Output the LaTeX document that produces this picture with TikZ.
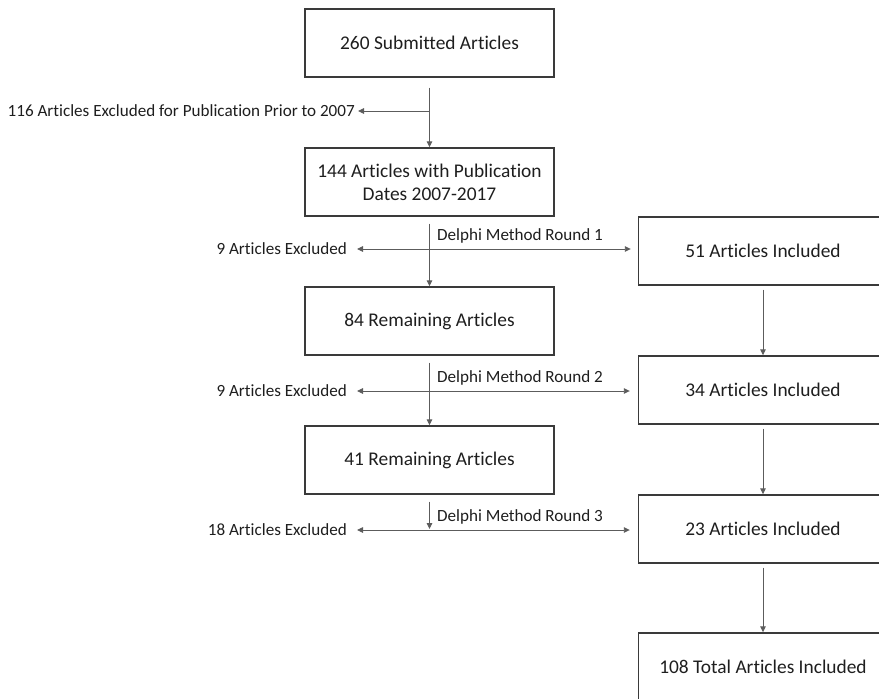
\documentclass[tikz,border=0pt]{standalone}
\usepackage{fontspec}
\setmainfont{Carlito}[Ligatures=NoCommon]
\usetikzlibrary{arrows.meta, positioning, calc}
\definecolor{boxline}{HTML}{3A3A3A}
\definecolor{arrowgray}{HTML}{5C5C5C}
\definecolor{inktext}{HTML}{1E1E1E}

\begin{document}
\begin{tikzpicture}[x=1pt, y=-1pt, >={Triangle[length=6pt, width=5.5pt]},
  stage/.style={draw=boxline, line width=1.4pt, minimum width=249pt, minimum height=68pt,
    inner sep=0pt, align=center, text=inktext, font=\fontsize{19.4}{23}\selectfont},
  side/.style={text=inktext, font=\fontsize{17.1}{20}\selectfont, inner xsep=10pt, inner ysep=2pt},
  round/.style={text=inktext, font=\fontsize{17.1}{20}\selectfont, inner sep=0pt, anchor=base west},
  flow/.style={arrowgray, line width=0.9pt, ->}]

% Page frame
\useasboundingbox (0,0) rectangle (879,699);
\clip (0,0) rectangle (879,699);

%% Left column
\node[stage] (sub) at (429.5,43) {260 Submitted Articles};
\node[stage] (dates) at (429.5,182) {144 Articles with Publication\\Dates 2007-2017};
\node[stage] (rem1) at (429.5,321) {84 Remaining Articles};
\node[stage] (rem2) at (429.5,460) {41 Remaining Articles};

%% Right column
\node[stage] (inc1) at (763,251) {51 Articles Included};
\node[stage] (inc2) at (763,390) {34 Articles Included};
\node[stage] (inc3) at (763,529) {23 Articles Included};
\node[stage] (total) at (763,667) {108 Total Articles Included};

% Split points
\coordinate (cut0) at (429.5,111);
\coordinate (cut1) at (429.5,249);
\coordinate (cut2) at (429.5,391);
\coordinate (cut3) at (429.5,530);

% Excluded labels
\node[side, anchor=east, inner xsep=3pt] (ex0) at (358,111) {116 Articles Excluded for Publication Prior to 2007};
\node[side, anchor=east] (ex1) at (357,249) {9 Articles Excluded};
\node[side, anchor=east] (ex2) at (357,391) {9 Articles Excluded};
\node[side, anchor=east] (ex3) at (357,530) {18 Articles Excluded};

% Round labels
\node[round] (dm1) at (437,240) {Delphi Method Round 1};
\node[round] (dm2) at (437,382) {Delphi Method Round 2};
\node[round] (dm3) at (437,521) {Delphi Method Round 3};

%% Main stream
\draw[flow, shorten <=10pt] (sub) -- (dates);
\draw[flow, shorten <=7pt] (dates) -- (rem1);
\draw[flow, shorten <=7pt] (rem1) -- (rem2);
\draw[flow, shorten <=7pt, shorten >=1pt] (rem2) -- (cut3);

%% Exclusions
\draw[flow] (cut0) -- (ex0);
\draw[flow] (cut1) -- (ex1);
\draw[flow] (cut2) -- (ex2);
\draw[flow] (cut3) -- (ex3);

%% Inclusions
\draw[flow, shorten >=7pt] (cut1) -- (cut1 -| inc1.west);
\draw[flow, shorten >=8pt] (cut2) -- (cut2 -| inc2.west);
\draw[flow, shorten >=8pt] (cut3) -- (cut3 -| inc3.west);

\draw[flow, shorten <=4pt] (inc1) -- (inc2);
\draw[flow, shorten <=4pt] (inc2) -- (inc3);
\draw[flow, shorten <=4pt] (inc3) -- (total);

\end{tikzpicture}
\end{document}
